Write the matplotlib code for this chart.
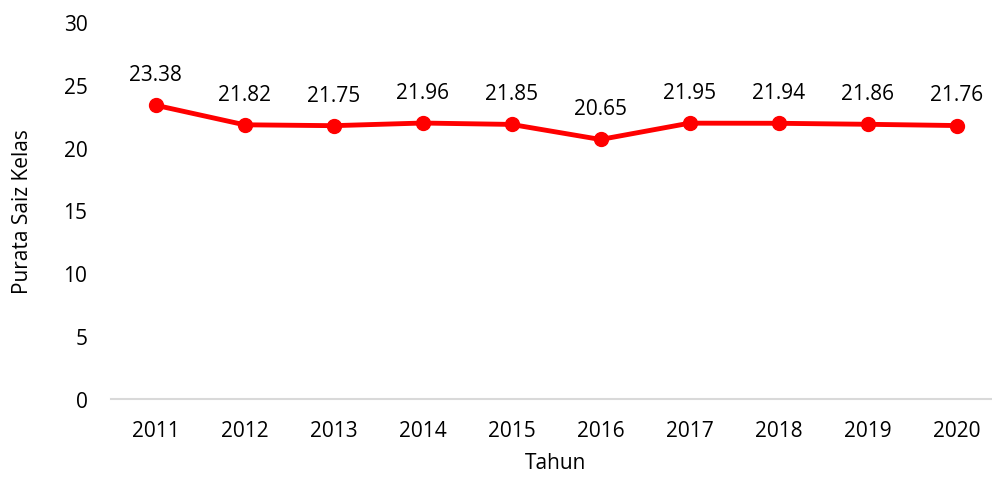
import matplotlib.pyplot as plt

tahun = ["2011", "2012", "2013", "2014", "2015", "2016", "2017", "2018", "2019", "2020"]
saiz = [23.38, 21.82, 21.75, 21.96, 21.85, 20.65, 21.95, 21.94, 21.86, 21.76]

plt.rcParams['font.family'] = ['Open Sans', 'DejaVu Sans']

fig = plt.figure(figsize=(9.92, 4.81), dpi=100)
# plot area: x from ~111px to ~1001px, y from 23px (30) to 400px (0)
ax = fig.add_axes([111 / 992, 1 - 400 / 481, 890 / 992, 377 / 481])

x = list(range(len(tahun)))
ax.plot(x, saiz, color='#FF0000', linewidth=3.5, marker='o', markersize=10,
        solid_capstyle='round', zorder=3)
for i, v in zip(x, saiz):
    ax.annotate(f"{v:.2f}", (i, v), xytext=(0, 22), textcoords='offset points',
                ha='center', va='center', fontsize=15, color='#000000')

ax.set_xlim(-0.5, len(tahun) - 0.5)
ax.set_ylim(0, 30)
ax.set_yticks(range(0, 31, 5))
ax.set_xticks(x)
ax.set_xticklabels(tahun)
ax.tick_params(axis='both', length=0, labelsize=15)
ax.tick_params(axis='y', pad=17)
ax.tick_params(axis='x', pad=15)
for s in ['top', 'right', 'left']:
    ax.spines[s].set_visible(False)
ax.spines['bottom'].set_color('#D9D9D9')
ax.spines['bottom'].set_linewidth(1.5)
ax.set_xlabel("Tahun", fontsize=15, labelpad=8)
ax.set_ylabel("Purata Saiz Kelas", fontsize=15, labelpad=22)

fig.savefig("out.png", dpi=100)
